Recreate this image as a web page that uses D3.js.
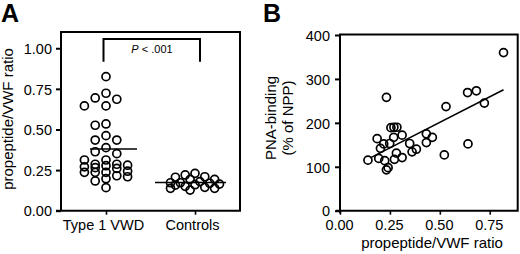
<!DOCTYPE html>
<html><head><meta charset="utf-8">
<script src="https://cdn.jsdelivr.net/npm/d3@7"></script>
<style>
html,body{margin:0;padding:0;background:#fff;}
svg{display:block;}
text{font-family:"Liberation Sans",Arial,sans-serif;fill:#000;}
</style></head>
<body>
<svg id="c" width="520" height="254"></svg>
<script>
// ---------- Data ----------
const groupsA = ["Type 1 VWD", "Controls"];
const type1Ratio = [0.825,0.723,0.694,0.686,0.645,0.645,0.534,0.526,0.462,0.435,0.435,0.388,0.363,0.351,
  0.312,0.312,0.286,0.286,0.280,0.277,0.270,0.265,0.260,0.243,0.236,0.236,0.236,0.215,0.209,0.197,0.183,0.142];
const controlRatio = [0.230,0.220,0.209,0.206,0.193,0.193,0.179,0.172,0.172,0.169,0.164,0.160,0.158,0.150,
  0.144,0.138,0.138,0.127];
const yTicksA = [0, 0.25, 0.5, 0.75, 1.0];
const pLabel = ["P", " < .001"];

const ratioB = [0.819,0.639,0.683,0.723,0.531,0.2325,0.641,0.5225,0.4325,0.4625,0.4325,0.349,0.3825,0.361,
  0.311,0.255,0.270,0.285,0.269,0.186,0.219,0.249,0.2025,0.140,0.194,0.224,0.2325,0.2725,0.2825,0.311,0.241];
const pnaB =   [360,269,273,245,237,258,152,127,175,167,155,153,140,134,
  172,189,190,190,167,164,152,153,142,115,119,114,93,117,131,121,98];
const xTicksB = [0, 0.25, 0.5, 0.75];
const yTicksB = [0, 100, 200, 300, 400];

// ---------- Setup ----------
const svg = d3.select("#c");
const FS = 14.5;

svg.append("text").attr("x", 1).attr("y", 22).attr("font-size", 25).attr("font-weight", "bold").text("A");
svg.append("text").attr("x", 263).attr("y", 22).attr("font-size", 25).attr("font-weight", "bold").text("B");

// ---------- Panel A ----------
const A = {l: 61, r: 240, t: 32, b: 210.7};
const yA = d3.scaleLinear().domain([0, 1.1]).range([A.b, A.t]);
const xA = d3.scalePoint().domain(groupsA).range([106, 195]);

const gA = svg.append("g");
gA.append("path").attr("d", `M${A.l},${A.b}V${A.t}H${A.r}V${A.b}`)
  .attr("fill", "none").attr("stroke", "#000").attr("stroke-width", 2);
const axYA = d3.axisLeft(yA).tickValues(yTicksA).tickFormat(d3.format(".2f")).tickSize(5).tickSizeOuter(0);
const gYA = gA.append("g").attr("transform", `translate(${A.l},0)`).call(axYA);
gYA.select(".domain").remove();
gYA.selectAll(".tick line").attr("stroke-width", 2);
gYA.selectAll(".tick text").attr("font-size", FS).attr("font-family", "Liberation Sans, Arial, sans-serif").attr("x", -9).attr("dy", "0.36em");
const axXA = d3.axisBottom(xA).tickSize(4).tickSizeOuter(0);
const gXA = gA.append("g").attr("transform", `translate(0,${A.b})`).call(axXA);
gXA.select(".domain").remove();
gA.append("line").attr("x1", A.l - 5).attr("x2", A.r + 1).attr("y1", A.b).attr("y2", A.b)
  .attr("stroke", "#000").attr("stroke-width", 2);
gXA.selectAll(".tick line").attr("stroke-width", 1.6);
gXA.selectAll(".tick text").attr("font-size", FS).attr("font-family", "Liberation Sans, Arial, sans-serif")
  .attr("y", 9).attr("dx", -3);
gA.append("text").attr("transform", `translate(13,119) rotate(-90)`).attr("text-anchor", "middle")
  .attr("font-size", 15).text("propeptide/VWF ratio");

// column-scatter layout: limited number of columns, overlap allowed when crowded
function swarm(values, cx, ys, step, maxK, minDist) {
  const placed = [];
  const cands = [0];
  for (let k = 1; k <= maxK; k++) cands.push(-k, k);
  values.slice().sort((a, b) => b - a).forEach(v => {
    const y = ys(v);
    let best = null, bestD = -1;
    for (const k of cands) {
      const x = cx + k * step;
      const d = placed.length ? d3.min(placed, q => Math.hypot(q.x - x, q.y - y)) : Infinity;
      if (d >= minDist) { best = x; break; }
      if (d > bestD) { bestD = d; best = x; }
    }
    placed.push({x: best, y, v});
  });
  return placed;
}
const ptsT1 = swarm(type1Ratio, xA("Type 1 VWD"), yA, 10.8, 2, 8.6);
const ptsC = swarm(controlRatio, xA("Controls"), yA, 4.9, 5, 7.5);

// means
const meanSpan = {"Type 1 VWD": [-16, 31], "Controls": [-40, 31]};
[[type1Ratio, "Type 1 VWD"], [controlRatio, "Controls"]].forEach(([vals, g]) => {
  const m = d3.mean(vals);
  gA.append("line").attr("x1", xA(g) + meanSpan[g][0]).attr("x2", xA(g) + meanSpan[g][1])
    .attr("y1", yA(m)).attr("y2", yA(m)).attr("stroke", "#000").attr("stroke-width", 1.4);
});
gA.selectAll("circle.p").data(ptsT1.concat(ptsC)).join("circle")
  .attr("cx", d => d.x).attr("cy", d => d.y).attr("r", 4)
  .attr("fill", "none").attr("stroke", "#000").attr("stroke-width", 1.7);

// significance bracket
const brY = yA(1.057), brB = yA(0.917);
gA.append("path").attr("d", `M${xA("Type 1 VWD") - 2.5},${brB}V${brY}H${xA("Controls") + 5}V${brB}`)
  .attr("fill", "none").attr("stroke", "#000").attr("stroke-width", 2);
const pt = gA.append("text").attr("x", 152).attr("y", 53).attr("text-anchor", "middle").attr("font-size", 11);
pt.append("tspan").attr("font-style", "italic").text(pLabel[0]);
pt.append("tspan").text(pLabel[1]);

// ---------- Panel B ----------
const B = {l: 340, r: 517.7, t: 34.5, b: 210.7};
const xB = d3.scaleLinear().domain([0, 0.89]).range([B.l, B.r]);
const yB = d3.scaleLinear().domain([0, 400]).range([B.b, 35]);
const gB = svg.append("g");
gB.append("path").attr("d", `M${B.l},${B.b + 2.5}V${B.t}H${B.r}V${B.b}H${B.l - 4}`)
  .attr("fill", "none").attr("stroke", "#000").attr("stroke-width", 2);
const axYB = d3.axisLeft(yB).tickValues(yTicksB).tickSize(5).tickSizeOuter(0);
const gYB = gB.append("g").attr("transform", `translate(${B.l},0)`).call(axYB);
gYB.select(".domain").remove();
gYB.selectAll(".tick line").attr("stroke-width", 2);
gYB.selectAll(".tick text").attr("font-size", FS).attr("font-family", "Liberation Sans, Arial, sans-serif").attr("x", -10).attr("dy", "0.36em");
const axXB = d3.axisBottom(xB).tickValues(xTicksB).tickFormat(d3.format(".2f")).tickSize(4).tickSizeOuter(0);
const gXB = gB.append("g").attr("transform", `translate(0,${B.b})`).call(axXB);
gXB.select(".domain").remove();
gXB.selectAll(".tick line").attr("stroke-width", 1.6);
gXB.selectAll(".tick text").attr("font-size", FS).attr("font-family", "Liberation Sans, Arial, sans-serif").attr("y", 9).attr("dx", -1);
gB.append("text").attr("x", 432).attr("y", 248).attr("text-anchor", "middle").attr("font-size", 15).text("propeptide/VWF ratio");
const yt = gB.append("text").attr("transform", `translate(276,118) rotate(-90)`).attr("text-anchor", "middle").attr("font-size", 15);
yt.append("tspan").attr("x", 0).attr("y", 0).text("PNA-binding");
yt.append("tspan").attr("x", 0).attr("y", 17).text("(% of NPP)");

// regression
const mx = d3.mean(ratioB), my = d3.mean(pnaB);
let sxy = 0, sxx = 0;
ratioB.forEach((x, i) => { sxy += (x - mx) * (pnaB[i] - my); sxx += (x - mx) * (x - mx); });
const slope = sxy / sxx, icpt = my - slope * mx;
const [x0, x1] = [d3.min(ratioB) + 0.012, d3.max(ratioB)];
gB.append("line").attr("x1", xB(x0)).attr("y1", yB(icpt + slope * x0))
  .attr("x2", xB(x1)).attr("y2", yB(icpt + slope * x1)).attr("stroke", "#000").attr("stroke-width", 1.5);
gB.selectAll("circle").data(ratioB.map((x, i) => [x, pnaB[i]])).join("circle")
  .attr("cx", d => xB(d[0])).attr("cy", d => yB(d[1])).attr("r", 4)
  .attr("fill", "none").attr("stroke", "#000").attr("stroke-width", 1.7);
</script>
</body></html>
